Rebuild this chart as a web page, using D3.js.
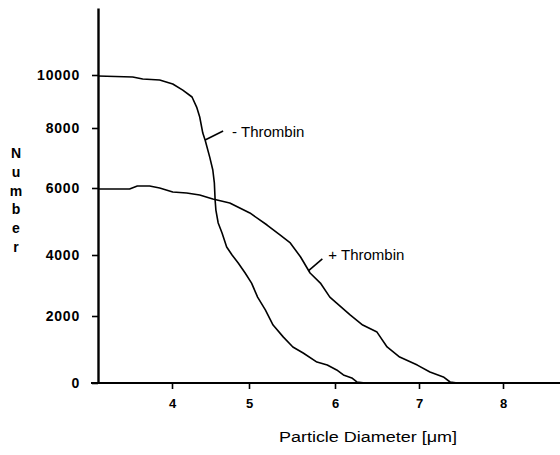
<!DOCTYPE html>
<html><head><meta charset="utf-8">
<script src="https://cdn.jsdelivr.net/npm/d3@7"></script>
<style>
body{margin:0;background:#fff}
svg{display:block}
text{font-family:"Liberation Sans",Arial,Helvetica,sans-serif;fill:#000}
</style>
</head><body>
<svg id="chart" width="560" height="455"></svg>
<script>
// ---- data ----
const xTicks = [4, 5, 6, 7, 8];
const yTicks = [0, 2000, 4000, 6000, 8000, 10000];
const xTitle = "Particle Diameter [\u03bcm]";
const yTitle = "Number";
const seriesNames = ["- Thrombin", "+ Thrombin"];

// - Thrombin
const minusDiameter = [3.04,3.49,3.62,3.84,4.01,4.14,4.26,4.32,4.36,4.40,4.43,4.49,4.53,4.55,4.56,4.57,4.60,4.65,4.71,4.78,4.86,4.95,5.03,5.10,5.19,5.28,5.40,5.51,5.63,5.79,5.91,6.02,6.10,6.20,6.26,6.36];
const minusNumber   = [9960,9925,9850,9810,9660,9430,9170,8790,8415,7830,7600,7030,6600,6170,5640,5340,4955,4655,4240,4000,3740,3410,3080,2620,2200,1730,1370,1075,895,625,535,390,240,150,30,0];

// + Thrombin
const plusDiameter = [3.04,3.45,3.55,3.71,3.84,4.01,4.19,4.36,4.53,4.75,5.01,5.21,5.36,5.48,5.60,5.71,5.83,5.94,6.02,6.18,6.33,6.50,6.62,6.77,6.98,7.13,7.29,7.37,7.46];
const plusNumber   = [5970,5970,6065,6065,6000,5880,5850,5790,5670,5550,5255,4895,4600,4360,3935,3410,3080,2620,2425,2035,1730,1520,1075,775,535,330,180,30,0];

// ---- layout ----
const svg = d3.select("#chart");
// scale follows the scanned axis (tick marks are not evenly spaced)
const x = d3.scaleLinear()
  .domain([3.04, 4, 5, 6, 7, 8, 8.68])
  .range([98, 172, 249, 335, 419, 503, 560]);
const y = d3.scaleLinear()
  .domain([0, 2000, 4000, 6000, 8000, 10000, 12500])
  .range([383, 316, 255, 188, 128, 75, 8]);

// axes
const gx = svg.append("g").attr("transform", `translate(0,${y(0)})`)
  .call(d3.axisBottom(x).tickValues(xTicks).tickFormat(d3.format("d"))
        .tickSize(6).tickSizeOuter(0).tickPadding(10));
gx.select(".domain").attr("stroke-width", 2.2).attr("d", `M${x(3.04) - 7},0H${x(8.68)}`);
gx.selectAll(".tick line").attr("stroke-width", 1.6);
gx.selectAll(".tick text").attr("font-size", 13).attr("font-weight", "bold")
  .attr("font-family", '"Liberation Sans",Arial,sans-serif').attr("fill", "#000");

const gy = svg.append("g").attr("transform", `translate(${x(3.04)},0)`)
  .call(d3.axisLeft(y).tickValues(yTicks).tickFormat(d3.format("d"))
        .tickSize(6).tickSizeOuter(0).tickPadding(12));
gy.select(".domain").attr("stroke-width", 2.4);
gy.selectAll(".tick line").attr("stroke-width", 1.6);
gy.selectAll(".tick text").attr("font-size", 14).attr("font-weight", "bold")
  .attr("letter-spacing", 0.8)
  .attr("font-family", '"Liberation Sans",Arial,sans-serif').attr("fill", "#000");

// curves
const line = d3.line().x(d => x(d[0])).y(d => y(d[1]));
const minusData = d3.zip(minusDiameter, minusNumber);
const plusData = d3.zip(plusDiameter, plusNumber);
[minusData, plusData].forEach(data => {
  svg.append("path").datum(data).attr("d", line)
    .attr("fill", "none").attr("stroke", "#000").attr("stroke-width", 1.6)
    .attr("stroke-linejoin", "round");
});

// annotations (anchored on a curve point)
const annotations = [
  {name: seriesNames[0], at: [4.43, 7600], dx: 18, dy: -9, tx: 27, ty: -3},
  {name: seriesNames[1], at: [5.69, 3480], dx: 14, dy: -12, tx: 20, ty: -11}
];
annotations.forEach(a => {
  const px = x(a.at[0]), py = y(a.at[1]);
  svg.append("line").attr("x1", px).attr("y1", py)
    .attr("x2", px + a.dx).attr("y2", py + a.dy)
    .attr("stroke", "#000").attr("stroke-width", 1.6);
  svg.append("text").attr("x", px + a.tx).attr("y", py + a.ty)
    .attr("font-size", 15).text(a.name);
});

// axis titles
svg.append("text").attr("transform", "translate(368,442) scale(1.2,1)")
  .attr("text-anchor", "middle").attr("font-size", 15)
  .text(xTitle);
svg.append("g").selectAll("text").data(yTitle.split("")).join("text")
  .attr("x", 16).attr("y", (d, i) => 158 + i * 18.8)
  .attr("text-anchor", "middle").attr("font-size", 14).attr("font-weight", "bold")
  .text(d => d);
</script>
</body></html>
